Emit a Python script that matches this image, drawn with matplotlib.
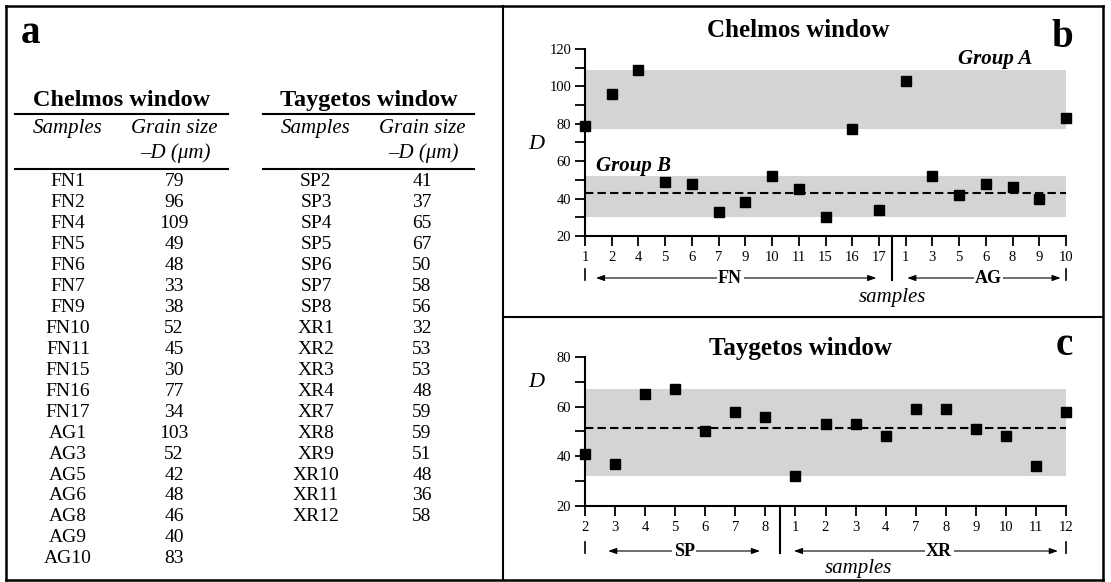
import matplotlib
matplotlib.use("Agg")
import matplotlib.pyplot as plt
import matplotlib.transforms as mtransforms
from matplotlib.lines import Line2D
from matplotlib.ticker import MultipleLocator
import numpy as np

plt.rcParams['font.family'] = 'Liberation Serif'

# grain size D (um) per sample
chelmos_samples = ["FN1", "FN2", "FN4", "FN5", "FN6", "FN7", "FN9", "FN10", "FN11", "FN15",
                   "FN16", "FN17", "AG1", "AG3", "AG5", "AG6", "AG8", "AG9", "AG10"]
chelmos_D = [79, 96, 109, 49, 48, 33, 38, 52, 45, 30, 77, 34, 103, 52, 42, 48, 46, 40, 83]

taygetos_samples = ["SP2", "SP3", "SP4", "SP5", "SP6", "SP7", "SP8", "XR1", "XR2", "XR3",
                    "XR4", "XR7", "XR8", "XR9", "XR10", "XR11", "XR12"]
taygetos_D = [41, 37, 65, 67, 50, 58, 56, 32, 53, 53, 48, 59, 59, 51, 48, 36, 58]

W, H = 1111, 582
fig = plt.figure(figsize=(W / 100, H / 100), dpi=100)
BAND = '#d4d4d4'


def ftext(x, y, s, **kw):
    kw.setdefault('ha', 'center')
    kw.setdefault('va', 'baseline')
    fig.text(x / W, 1 - y / H, s, **kw)


def fline(x0, y0, x1, y1, lw=1.5):
    fig.add_artist(Line2D([x0 / W, x1 / W], [1 - y0 / H, 1 - y1 / H],
                          transform=fig.transFigure, color='black', lw=lw))


# panel frames
fline(6, 6, 1103, 6, 1.8)
fline(1103, 6, 1103, 580, 1.8)
fline(1103, 580, 6, 580, 1.8)
fline(6, 580, 6, 6, 1.8)
fline(503, 6, 503, 580)
fline(503, 317, 1103, 317)

# ---- panel a : table ----
ftext(31, 43, 'a', fontsize=28, weight='bold')


def table(xs, xv, x0, x1, title, names, vals):
    ftext((x0 + x1) / 2, 106, title, fontsize=17.5, weight='bold')
    fline(x0, 114, x1, 114)
    fline(x0, 169, x1, 169)
    ftext(xs, 133, 'Samples', fontsize=15, style='italic')
    ftext(xv, 133, 'Grain size', fontsize=15, style='italic')
    ftext(xv + 1, 158, '\u2013D (\u03bcm)', fontsize=15, style='italic')
    for i, (n, v) in enumerate(zip(names, vals)):
        yb = 186.5 + i * 20.93
        ftext(xs, yb, n, fontsize=14)
        ftext(xv, yb, str(v), fontsize=14)


table(68, 174, 15, 228, 'Chelmos window', chelmos_samples, chelmos_D)
table(316, 422, 263, 474, 'Taygetos window', taygetos_samples, taygetos_D)


# ---- panels b and c ----
def scatter_panel(top, bottom, ymin, ymax, names, vals, bands, mean_vals):
    ax = fig.add_axes([585 / W, 1 - bottom / H, (1066 - 585) / W, (bottom - top) / H])
    x = np.arange(len(vals))
    ax.set_xlim(0, len(vals) - 1)
    ax.set_ylim(ymin, ymax)
    for grp in bands:
        ax.axhspan(min(grp), max(grp), color=BAND, lw=0, zorder=0)
    ax.axhline(np.mean(mean_vals), color='black', ls=(0, (4, 2)), lw=1.5, zorder=1)
    ax.plot(x, vals, 's', color='black', ms=7, clip_on=False, zorder=3)
    for s in ['top', 'right']:
        ax.spines[s].set_visible(False)
    for s in ['left', 'bottom']:
        ax.spines[s].set_linewidth(1.5)
    ax.set_xticks(x)
    ax.set_xticklabels([n.lstrip('FNAGSPXR') for n in names])
    ax.yaxis.set_major_locator(MultipleLocator(20))
    ax.yaxis.set_minor_locator(MultipleLocator(10))
    ax.tick_params(which='both', direction='out', length=7, width=1.3,
                   labelsize=10.5, pad=3)
    ax.tick_params(axis='x', pad=4)
    ax.set_facecolor('none')
    return ax


def under_axis(ax, ybot, y_arrow, y_end, split, groups):
    tr = mtransforms.blended_transform_factory(ax.transData, fig.transFigure)
    fy = lambda y: 1 - y / H
    n = ax.get_xlim()[1]
    ax.plot([split, split], [fy(ybot), fy(y_end + 2)], transform=tr, color='black',
            lw=1.5, clip_on=False)
    for xe in [0, n]:
        ax.plot([xe, xe], [fy(y_arrow - 9), fy(y_arrow + 2)], transform=tr,
                color='black', lw=1.2, clip_on=False)
    for lab, xa, xb, xt in groups:
        ax.annotate('', xy=(xb, fy(y_arrow)), xytext=(xa, fy(y_arrow)),
                    xycoords=tr, textcoords=tr,
                    arrowprops=dict(arrowstyle='<|-|>,head_length=0.5,head_width=0.18',
                                    color='black', lw=0.8, shrinkA=0, shrinkB=0))
        ax.text(xt, fy(y_arrow + 5), lab, transform=tr, ha='center', va='baseline',
                fontsize=13, weight='bold',
                bbox=dict(facecolor='white', edgecolor='none', pad=1))


# panel b
groupA = [v for v in chelmos_D if v > 60]
groupB = [v for v in chelmos_D if v < 60]
axb = scatter_panel(49, 236, 20, 120, chelmos_samples, chelmos_D, [groupA, groupB], groupB)
under_axis(axb, 236, 278, 278, 11.5,
           [('FN', 0.41, 10.9, 5.43), ('AG', 12.06, 17.8, 15.1)])
ftext(798, 37, 'Chelmos window', fontsize=18, weight='bold')
ftext(1062, 47, 'b', fontsize=28, weight='bold')
ftext(995, 64, 'Group A', fontsize=15, weight='bold', style='italic')
ftext(633, 171, 'Group B', fontsize=15, weight='bold', style='italic')
ftext(536, 149, 'D', fontsize=16, style='italic')
ftext(892, 302, 'samples', fontsize=15, style='italic')

# panel c
axc = scatter_panel(357, 506, 20, 80, taygetos_samples, taygetos_D, [taygetos_D], taygetos_D)
under_axis(axc, 506, 551, 551, 6.5,
           [('SP', 0.77, 5.82, 3.3), ('XR', 6.95, 15.73, 11.78)])
ftext(800, 355, 'Taygetos window', fontsize=18, weight='bold')
ftext(1064, 355, 'c', fontsize=28, weight='bold')
ftext(536, 387, 'D', fontsize=16, style='italic')
ftext(858, 573, 'samples', fontsize=15, style='italic')

fig.savefig('out.png', dpi=100)
